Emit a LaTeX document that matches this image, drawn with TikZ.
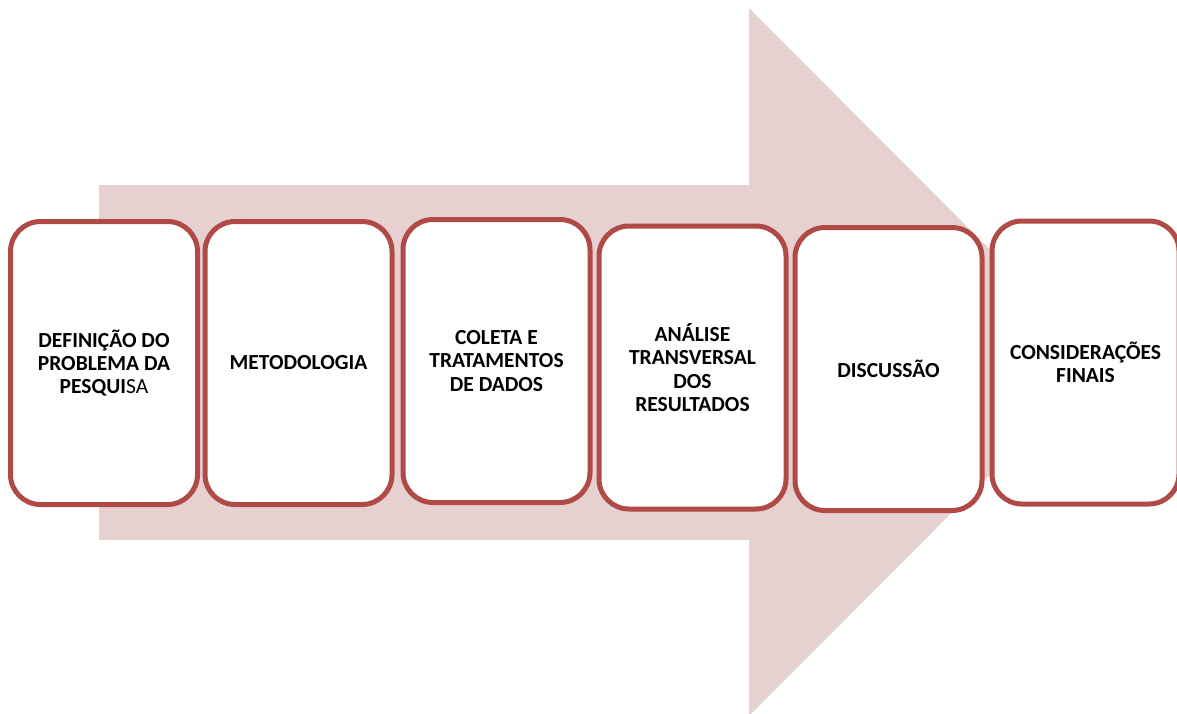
\documentclass[tikz,border=0pt]{standalone}
\usepackage{fontspec}
\setmainfont{Carlito}
\definecolor{arrowfill}{RGB}{231,208,208}
\definecolor{boxline}{RGB}{176,74,71}
\begin{document}
\begin{tikzpicture}[x=1pt,y=-1pt,
  stepbox/.style={draw=boxline, line width=5pt, fill=white, rounded corners=30pt,
    minimum width=187pt, minimum height=283pt, align=center, inner sep=0pt,
    font=\fontsize{21.5}{23.3}\selectfont\bfseries}]
\useasboundingbox (0,0) rectangle (1177,713);
\clip (0,0) rectangle (1177,713);
\fill[arrowfill] (99,185) -- (749,185) -- (749,8) -- (1102,362) -- (749,716) -- (749,540) -- (99,540) -- cycle;
\node[stepbox] (b1) at (104,363) {DEFINIÇÃO DO\\PROBLEMA DA\\PESQUI{\mdseries SA}};
\node[stepbox] (b2) at (298.5,363) {METODOLOGIA};
\node[stepbox] (b3) at (496.5,361) {COLETA E\\TRATAMENTOS\\DE DADOS};
\node[stepbox] (b4) at (692.5,367.5) {ANÁLISE\\TRANSVERSAL\\DOS\\RESULTADOS};
\node[stepbox] (b5) at (888.5,369) {DISCUSSÃO};
\node[stepbox] (b6) at (1085.5,362.5) {CONSIDERAÇÕES\\FINAIS};
\end{tikzpicture}
\end{document}
